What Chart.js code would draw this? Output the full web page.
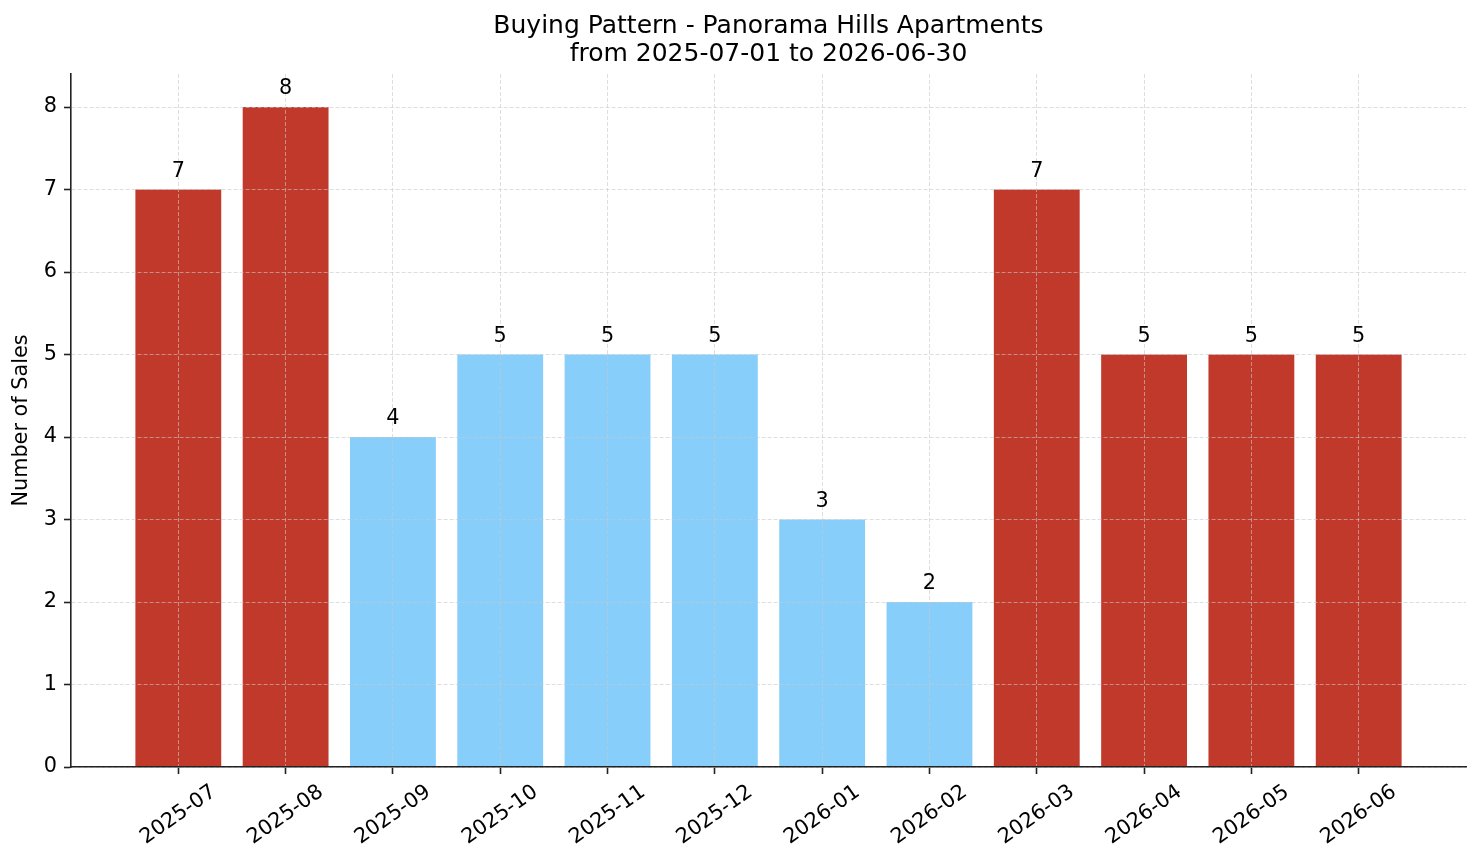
<!DOCTYPE html>
<html><head><meta charset="utf-8">
<script src="https://cdn.jsdelivr.net/npm/chart.js@4"></script>
<style>html,body{margin:0;padding:0;background:#fff}canvas{display:block}</style>
</head><body>
<canvas id="c" width="1481" height="863"></canvas>
<script>
const categories = ['2025-07','2025-08','2025-09','2025-10','2025-11','2025-12','2026-01','2026-02','2026-03','2026-04','2026-05','2026-06'];
const sales = [7, 8, 4, 5, 5, 5, 3, 2, 7, 5, 5, 5];
const yTicks = [0, 1, 2, 3, 4, 5, 6, 7, 8];
const titleLines = ['Buying Pattern - Panorama Hills Apartments', 'from 2025-07-01 to 2026-06-30'];
const yAxisLabel = 'Number of Sales';

const RED = '#C0392B', BLUE = '#87CEFA';
const barColors = [RED, RED, BLUE, BLUE, BLUE, BLUE, BLUE, BLUE, RED, RED, RED, RED];

const FONT = '"DejaVu Sans", sans-serif';
const TICK_PX = 20.8;
const GRID = 'rgba(200,200,200,0.6)';

const textPlugin = {
  id: 'txt',
  afterDraw(chart) {
    const ctx = chart.ctx, ca = chart.chartArea, xs = chart.scales.x;
    ctx.save();
    ctx.fillStyle = '#000';
    ctx.textAlign = 'center';
    ctx.textBaseline = 'middle';
    const cx = (ca.left + ca.right) / 2;
    ctx.font = '25px ' + FONT;
    ctx.fillText(titleLines[0], cx, 26);
    ctx.fillText(titleLines[1], cx, 54);
    ctx.font = TICK_PX + 'px ' + FONT;
    ctx.save();
    ctx.translate(22, (ca.top + ca.bottom) / 2);
    ctx.rotate(-Math.PI / 2);
    ctx.fillText(yAxisLabel, 0, 0);
    ctx.restore();
    categories.forEach((c, i) => {
      const x = xs.getPixelForValue(i);
      ctx.save();
      ctx.translate(x, ca.bottom + 48);
      ctx.rotate(-35 * Math.PI / 180);
      ctx.fillText(c, 0, 0);
      ctx.restore();
    });
    const meta = chart.getDatasetMeta(0);
    meta.data.forEach((bar, i) => {
      ctx.fillText(String(sales[i]), bar.x, bar.y - 18);
    });
    ctx.restore();
  }
};

new Chart(document.getElementById('c'), {
  type: 'bar',
  data: {
    datasets: [{
      data: sales.map((v, i) => ({ x: i, y: v })),
      backgroundColor: barColors,
      borderWidth: 0,
      barPercentage: 0.8,
      categoryPercentage: 1.0
    }]
  },
  options: {
    responsive: false,
    devicePixelRatio: 1,
    animation: false,
    layout: { padding: { left: 0, right: 15, top: 74, bottom: 0 } },
    plugins: { legend: { display: false }, title: { display: false }, tooltip: { enabled: false } },
    scales: {
      x: {
        type: 'linear',
        min: -1, max: 12,
        offset: false,
        afterBuildTicks(scale) { scale.ticks = categories.map((c, i) => ({ value: i })); },
        afterFit(scale) { scale.height = 96; },
        ticks: { callback: () => '', autoSkip: false, maxRotation: 0 },
        grid: { z: 1, offset: false, color: GRID, lineWidth: 1, tickColor: '#222', tickWidth: 1.6, tickLength: 7, tickBorderDash: [] },
        border: { z: 2, display: true, color: '#222', width: 1.6, dash: [4, 2] }
      },
      y: {
        type: 'linear',
        min: 0, max: 8.4,
        afterBuildTicks(scale) { scale.ticks = yTicks.map(v => ({ value: v })); },
        afterFit(scale) { scale.width = 71; },
        ticks: { color: '#000', font: { family: FONT, size: TICK_PX }, padding: 7, callback: v => String(v) },
        grid: { z: 1, offset: false, color: GRID, lineWidth: 1, tickColor: '#222', tickWidth: 1.6, tickLength: 7, tickBorderDash: [] },
        border: { z: 2, display: true, color: '#222', width: 1.6, dash: [4, 2] }
      }
    }
  },
  plugins: [textPlugin]
});
</script>
</body></html>
